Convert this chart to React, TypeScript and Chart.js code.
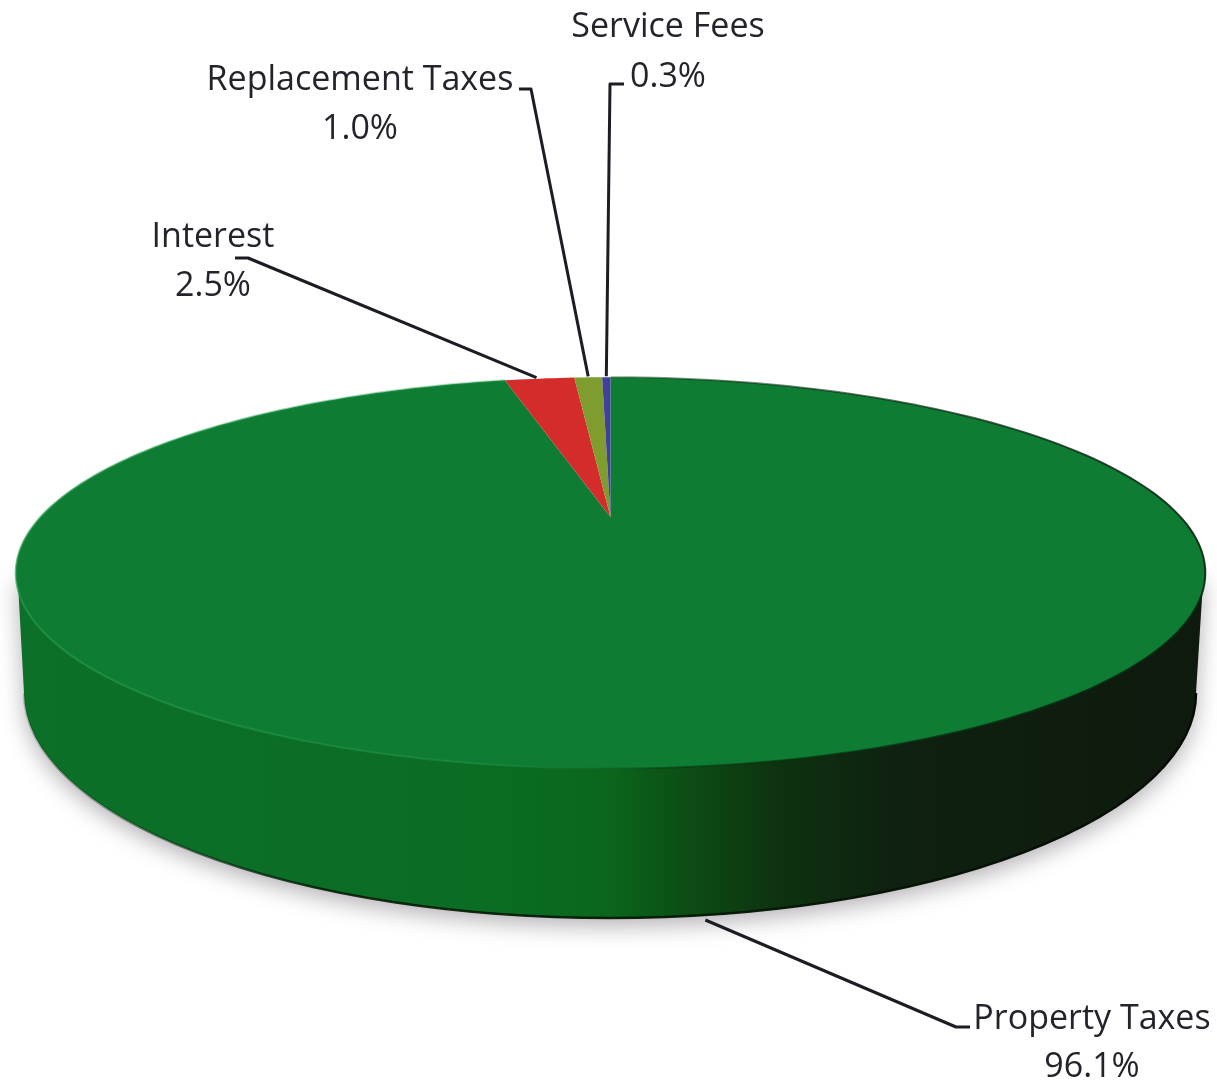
import React, { useEffect, useRef } from "react";
import { Chart, registerables } from "chart.js";

Chart.register(...registerables);

const categories = ["Property Taxes", "Interest", "Replacement Taxes", "Service Fees"];
const shares = [96.1, 2.5, 1.0, 0.3];
const sliceColors = ["#0f7c34", "#d42c2a", "#7f9c2f", "#41409a"];

// Layout of the tilted disc (not data)
const VIEW = { cx: 610.5, apexY: 517, farA: 32, persp: -0.2857, k: 570 };
const TOP = { cy: 574, rx: 593, ry: 196 };
const BASE = { cx: 610, cy: 693, rx: 586, ry: 225 };
const LABEL_FONT = '34px "Open Sans", "Noto Sans", sans-serif';
const LABELS = [
  { cx: 1092, y1: 1019, y2: 1067, elbow: [[970, 1027], [956, 1027]], onBase: true, dx: 0 },
  { cx: 213, y1: 237, y2: 286, elbow: [[235, 258], [248, 258]], onBase: false, dx: -3 },
  { cx: 360, y1: 80, y2: 129, elbow: [[519, 89], [531, 89]], onBase: false, dx: 0 },
  { cx: 668, y1: 27, y2: 77, elbow: [[624, 84], [610, 84]], onBase: false, dx: 0 },
];

const project = (angle: number) => {
  const x = Math.cos(angle);
  const y = Math.sin(angle);
  const w = 1 + VIEW.persp * y;
  return [VIEW.cx + (VIEW.k * x) / w, (VIEW.farA * y + VIEW.apexY) / w];
};

const discPlugin = {
  id: "disc3d",
  beforeDatasetDraw(chart: any) {
    const ctx = chart.ctx as CanvasRenderingContext2D;
    const arcs = chart.getDatasetMeta(0).data as any[];

    // side wall
    const side = () => {
      ctx.beginPath();
      ctx.moveTo(VIEW.cx - TOP.rx, TOP.cy);
      ctx.lineTo(BASE.cx - BASE.rx, BASE.cy);
      ctx.ellipse(BASE.cx, BASE.cy, BASE.rx, BASE.ry, 0, Math.PI, 0, true);
      ctx.lineTo(VIEW.cx + TOP.rx, TOP.cy);
      ctx.closePath();
    };
    const wall = ctx.createLinearGradient(20, 0, 1200, 0);
    [
      [0, "#0c7029"],
      [0.4, "#0b6c24"],
      [0.5, "#0a661c"],
      [0.56, "#0c4f14"],
      [0.64, "#0e3310"],
      [0.74, "#0f2110"],
      [1, "#0e1a0d"],
    ].forEach(([o, c]) => wall.addColorStop(o as number, c as string));
    ctx.save();
    ctx.shadowColor = "rgba(60,50,60,0.38)";
    ctx.shadowBlur = 22;
    ctx.shadowOffsetY = 8;
    ctx.fillStyle = wall;
    side();
    ctx.fill();
    ctx.restore();
    const rim = ctx.createLinearGradient(20, 0, 1200, 0);
    rim.addColorStop(0, "rgba(5,60,20,0.2)");
    rim.addColorStop(0.25, "rgba(0,30,5,0.9)");
    rim.addColorStop(1, "#050a05");
    ctx.save();
    ctx.strokeStyle = rim;
    ctx.lineWidth = 2.5;
    ctx.beginPath();
    ctx.ellipse(BASE.cx, BASE.cy, BASE.rx, BASE.ry, 0, Math.PI, 0, true);
    ctx.stroke();
    ctx.restore();

    // top face: each slice keeps the angles Chart.js computed for it
    arcs.forEach((arc, i) => {
      const { startAngle, endAngle } = arc.getProps(["startAngle", "endAngle"], true);
      const steps = Math.max(2, Math.ceil((endAngle - startAngle) * 60));
      ctx.beginPath();
      ctx.moveTo(VIEW.cx, VIEW.apexY);
      for (let s = 0; s <= steps; s++) {
        const [px, py] = project(startAngle + ((endAngle - startAngle) * s) / steps);
        ctx.lineTo(px, py);
      }
      ctx.closePath();
      ctx.fillStyle = sliceColors[i];
      ctx.fill();
    });

    // edge of the top face: light at front left, dark to the right
    const { startAngle, endAngle } = arcs[0].getProps(["startAngle", "endAngle"], true);
    const edge = ctx.createLinearGradient(20, 0, 1200, 0);
    edge.addColorStop(0, "rgba(40,160,80,0.6)");
    edge.addColorStop(0.4, "rgba(40,160,80,0.35)");
    edge.addColorStop(0.55, "rgba(5,50,15,0.5)");
    edge.addColorStop(1, "rgba(5,40,15,0.9)");
    ctx.save();
    ctx.strokeStyle = edge;
    ctx.lineWidth = 2;
    ctx.beginPath();
    for (let s = 0; s <= 240; s++) {
      const [px, py] = project(startAngle + ((endAngle - startAngle) * s) / 240);
      if (s === 0) ctx.moveTo(px, py);
      else ctx.lineTo(px, py);
    }
    ctx.stroke();
    ctx.restore();
    return false;
  },
  afterDatasetsDraw(chart: any) {
    const ctx = chart.ctx as CanvasRenderingContext2D;
    const arcs = chart.getDatasetMeta(0).data as any[];
    ctx.save();
    ctx.strokeStyle = "#1c1c24";
    ctx.lineWidth = 3;
    ctx.lineJoin = "round";
    ctx.fillStyle = "#23232b";
    ctx.font = LABEL_FONT;
    ctx.textAlign = "center";
    ctx.textBaseline = "middle";
    arcs.forEach((arc, i) => {
      const { startAngle, endAngle } = arc.getProps(["startAngle", "endAngle"], true);
      const mid = (startAngle + endAngle) / 2;
      let [ax, ay] = project(mid);
      if (LABELS[i].onBase) {
        const t = (ax - BASE.cx) / BASE.rx;
        ay = BASE.cy + BASE.ry * Math.sqrt(1 - t * t) + 5;
      } else {
        ay -= 1;
      }
      ax += LABELS[i].dx;
      const [p, q] = LABELS[i].elbow;
      ctx.beginPath();
      ctx.moveTo(p[0], p[1]);
      ctx.lineTo(q[0], q[1]);
      ctx.lineTo(ax, ay);
      ctx.stroke();
      ctx.fillText(categories[i], LABELS[i].cx, LABELS[i].y1);
      ctx.fillText(shares[i].toFixed(1) + "%", LABELS[i].cx, LABELS[i].y2);
    });
    ctx.restore();
  },
};

export default function App() {
  const ref = useRef<HTMLCanvasElement>(null);
  useEffect(() => {
    const chart = new Chart(ref.current!, {
      type: "pie",
      data: {
        labels: categories,
        datasets: [{ data: shares, backgroundColor: sliceColors, borderWidth: 0 }],
      },
      options: {
        responsive: false,
        animation: false,
        plugins: { legend: { display: false }, tooltip: { enabled: false } },
      },
      plugins: [discPlugin],
    } as any);
    return () => chart.destroy();
  }, []);
  return (
    <canvas
      ref={ref}
      width={1217}
      height={1083}
      style={{ position: "absolute", left: 0, top: 0, display: "block" }}
    />
  );
}
